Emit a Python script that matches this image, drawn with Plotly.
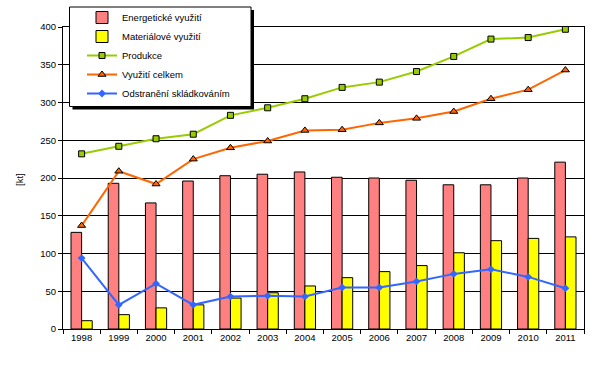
import plotly.graph_objects as go

years = ["1998", "1999", "2000", "2001", "2002", "2003", "2004",
         "2005", "2006", "2007", "2008", "2009", "2010", "2011"]
energeticke = [128, 193, 167, 196, 203, 205, 208, 201, 200, 197, 191, 191, 200, 221]
materialove = [11, 19, 28, 32, 41, 48, 57, 68, 76, 84, 101, 117, 120, 122]
produkce = [232, 242, 252, 258, 283, 293, 305, 320, 327, 341, 361, 384, 386, 397]
vyuziti_celkem = [137, 209, 192, 225, 240, 249, 263, 264, 273, 279, 288, 305, 317, 343]
odstraneni = [94, 32, 60, 32, 43, 44, 43, 55, 55, 63, 73, 79, 69, 54]

W, H = 608, 372
L, R, T, B = 63, 24, 27, 43
pw, ph = W - L - R, H - T - B

def px(x):
    return (x - L) / pw

def py(y):
    return (H - B - y) / ph

FONT = "Arial, Liberation Sans, sans-serif"

fig = go.Figure()
fig.add_trace(go.Bar(x=years, y=energeticke, name="Energetické využití",
                     marker=dict(color="#FF8080", line=dict(color="black", width=1))))
fig.add_trace(go.Bar(x=years, y=materialove, name="Materiálové využití",
                     marker=dict(color="#FFFF00", line=dict(color="black", width=1))))
fig.add_trace(go.Scatter(x=years, y=produkce, name="Produkce", mode="lines+markers",
                         line=dict(color="#99CC00", width=2),
                         marker=dict(symbol="square", size=6, color="#99CC00",
                                     line=dict(color="black", width=1))))
fig.add_trace(go.Scatter(x=years, y=vyuziti_celkem, name="Využití celkem", mode="lines+markers",
                         line=dict(color="#FF6600", width=2),
                         marker=dict(symbol="triangle-up", size=7, color="#FF6600",
                                     line=dict(color="black", width=1))))
fig.add_trace(go.Scatter(x=years, y=odstraneni, name="Odstranění skládkováním", mode="lines+markers",
                         line=dict(color="#3366FF", width=2),
                         marker=dict(symbol="diamond", size=6, color="#3366FF")))

fig.update_layout(
    width=W, height=H,
    margin=dict(l=L, r=R, t=T, b=B, pad=0, autoexpand=False),
    paper_bgcolor="white", plot_bgcolor="white",
    font=dict(family=FONT, size=9.5, color="black"),
    barmode="group", bargap=0.43, bargroupgap=0,
    legend=dict(x=px(82), y=py(3), xanchor="left", yanchor="top",
                bgcolor="rgba(0,0,0,0)", borderwidth=0,
                font=dict(family=FONT, size=9.5, color="black")),
    xaxis=dict(type="category", range=[-0.5, len(years) - 0.5],
               tickson="boundaries", ticks="outside", ticklen=4,
               tickcolor="black", showline=True, linecolor="black", linewidth=1,
               mirror=True, showgrid=False, tickfont=dict(size=9.5)),
    yaxis=dict(range=[0, 400], dtick=50, ticks="outside", ticklen=4, tickcolor="black",
               showline=True, linecolor="black", linewidth=1, mirror=True,
               showgrid=True, gridcolor="black", gridwidth=1, zeroline=False,
               tickfont=dict(size=9.5)),
    shapes=[
        dict(type="rect", xref="paper", yref="paper", layer="above",
             x0=px(72.5), x1=px(254), y0=py(109.5), y1=py(10),
             fillcolor="black", line=dict(width=0)),
        dict(type="rect", xref="paper", yref="paper", layer="above",
             x0=px(69.5), x1=px(251), y0=py(106.5), y1=py(7),
             fillcolor="white", line=dict(color="black", width=1)),
    ],
    annotations=[
        dict(text="[kt]", xref="paper", yref="paper", x=px(19), y=py(180),
             showarrow=False, textangle=-90, font=dict(size=9.5),
             xanchor="center", yanchor="middle"),
    ],
)

fig.write_html("out.html", config={"displayModeBar": False},
               post_script="document.body.style.margin='0px';document.body.style.overflow='hidden';")
